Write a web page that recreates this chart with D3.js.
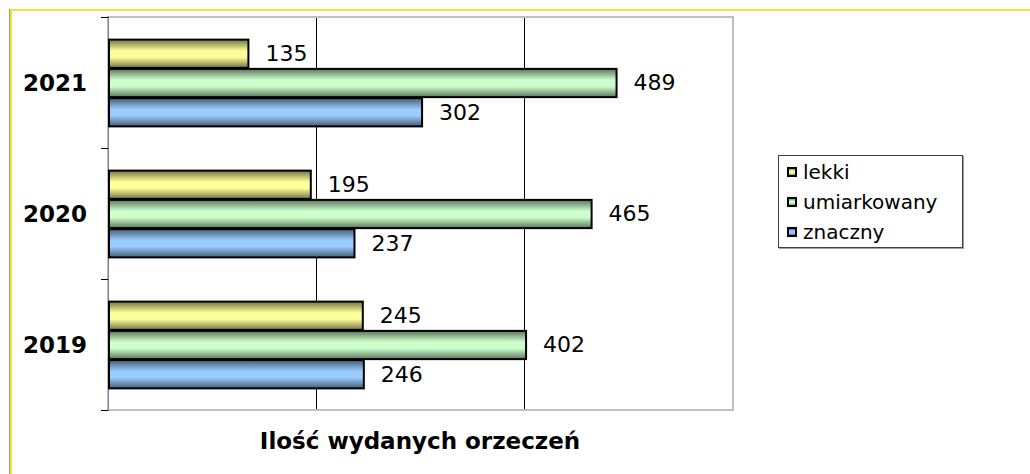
<!DOCTYPE html>
<html>
<head>
<meta charset="utf-8">
<script src="https://cdn.jsdelivr.net/npm/d3@7"></script>
<style>
  body { margin: 0; background: #fff; }
  svg { display: block; font-family: "DejaVu Sans", Verdana, sans-serif; }
</style>
</head>
<body>
<svg id="chart" width="1030" height="474"></svg>
<script>
// data
const years = ["2021", "2020", "2019"];
const series = ["lekki", "umiarkowany", "znaczny"];
const lekki = [135, 195, 245];
const umiarkowany = [489, 465, 402];
const znaczny = [302, 237, 246];
const xTicks = [0, 200, 400, 600];
const axisTitle = "Ilość wydanych orzeczeń";

const values = { lekki, umiarkowany, znaczny };
const lightColors = { lekki: "#ffff99", umiarkowany: "#ccffcc", znaczny: "#99ccff" };

const svg = d3.select("#chart");
const plot = { left: 108, right: 732, top: 17, bottom: 410 };

// gradients, dark at the edges and light in the middle
const defs = svg.append("defs");
series.forEach((s, i) => {
  const light = d3.color(lightColors[s]);
  const dark = light.darker(2.2);
  const g = defs.append("linearGradient")
    .attr("id", "grad-" + i)
    .attr("x1", 0).attr("y1", 0).attr("x2", 0).attr("y2", 1);
  g.append("stop").attr("offset", "0%").attr("stop-color", dark);
  g.append("stop").attr("offset", "40%").attr("stop-color", light);
  g.append("stop").attr("offset", "62%").attr("stop-color", light);
  g.append("stop").attr("offset", "100%").attr("stop-color", dark);
});

// outer frame
svg.append("line")
  .attr("x1", 9.5).attr("x2", 9.5).attr("y1", 9).attr("y2", 480)
  .attr("stroke", "#999").attr("stroke-width", 1);
svg.append("rect")
  .attr("x", 11).attr("y", 10).attr("width", 1040).attr("height", 480)
  .attr("fill", "none").attr("stroke", "#e8e82e").attr("stroke-width", 2);

const x = d3.scaleLinear().domain([0, 600]).range([plot.left, plot.right]);
const y = d3.scaleBand().domain(years).range([plot.top, plot.bottom])
  .paddingInner(0.33).paddingOuter(0.165);
const ySub = d3.scaleBand().domain(series).range([0, y.bandwidth()]);

// plot area border
svg.append("rect")
  .attr("x", plot.left).attr("y", plot.top)
  .attr("width", plot.right - plot.left + 1).attr("height", plot.bottom - plot.top)
  .attr("fill", "#fff").attr("stroke", "#c0c0c0").attr("stroke-width", 2);

// gridlines
svg.append("g")
  .selectAll("line")
  .data(xTicks.slice(1, -1))
  .join("line")
  .attr("x1", d => x(d) + 0.5).attr("x2", d => x(d) + 0.5)
  .attr("y1", plot.top + 1).attr("y2", plot.bottom - 1)
  .attr("stroke", "#000").attr("stroke-width", 1);

// category axis
svg.append("line")
  .attr("x1", plot.left + 0.5).attr("x2", plot.left + 0.5)
  .attr("y1", plot.top - 1).attr("y2", plot.bottom + 1)
  .attr("stroke", "#808080").attr("stroke-width", 1);
const tickYs = d3.range(years.length + 1).map(i => plot.top + i * y.step());
svg.append("g")
  .selectAll("line")
  .data(tickYs)
  .join("line")
  .attr("x1", plot.left - 7).attr("x2", plot.left)
  .attr("y1", d => Math.round(d) + 0.5).attr("y2", d => Math.round(d) + 0.5)
  .attr("stroke", "#000").attr("stroke-width", 1);

svg.append("g")
  .selectAll("text")
  .data(years)
  .join("text")
  .attr("x", 87)
  .attr("y", d => y(d) + y.bandwidth() / 2)
  .attr("dy", "0.36em")
  .attr("text-anchor", "end")
  .style("font-size", "23px")
  .style("font-weight", "bold")
  .text(d => d);

// bars
const groups = svg.append("g")
  .selectAll("g")
  .data(years)
  .join("g")
  .attr("transform", d => `translate(0,${y(d)})`);

groups.selectAll("rect")
  .data((d, i) => series.map((s, si) => ({ s, si, v: values[s][i] })))
  .join("rect")
  .attr("x", x(0) + 1)
  .attr("y", d => ySub(d.s) + 1)
  .attr("width", d => x(d.v) - x(0) - 1)
  .attr("height", ySub.bandwidth() - 1)
  .attr("fill", d => `url(#grad-${d.si})`)
  .attr("stroke", "#000")
  .attr("stroke-width", 2);

groups.selectAll("text")
  .data((d, i) => series.map(s => ({ s, v: values[s][i] })))
  .join("text")
  .attr("x", d => x(d.v) + 17)
  .attr("y", d => ySub(d.s) + ySub.bandwidth() / 2)
  .attr("dy", "0.36em")
  .style("font-size", "22px")
  .text(d => d.v);

// axis title
svg.append("text")
  .attr("x", (plot.left + plot.right) / 2)
  .attr("y", 449)
  .attr("text-anchor", "middle")
  .style("font-size", "23px")
  .style("font-weight", "bold")
  .text(axisTitle);

// legend
const legend = svg.append("g").attr("transform", "translate(778,155)");
legend.append("rect")
  .attr("x", 1.5).attr("y", 1.5).attr("width", 184).attr("height", 92)
  .attr("fill", "none").attr("stroke", "#a0a0a0");
legend.append("rect")
  .attr("x", 0.5).attr("y", 0.5).attr("width", 184).attr("height", 92)
  .attr("fill", "#fff").attr("stroke", "#404040");
const items = legend.selectAll("g.item")
  .data(series)
  .join("g")
  .attr("class", "item")
  .attr("transform", (d, i) => `translate(0,${17 + i * 30})`);
items.append("rect")
  .attr("x", 10).attr("y", -4).attr("width", 8).attr("height", 8)
  .attr("fill", (d, i) => `url(#grad-${i})`)
  .attr("stroke", "#000").attr("stroke-width", 2);
items.append("text")
  .attr("x", 25).attr("y", 0)
  .attr("dy", "0.36em")
  .style("font-size", "20px")
  .text(d => d);
</script>
</body>
</html>
